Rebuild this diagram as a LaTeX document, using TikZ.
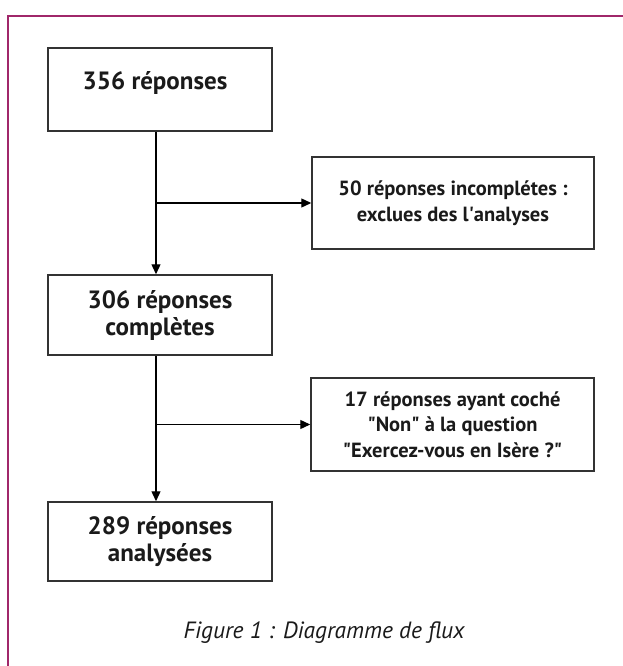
\documentclass[tikz,border=0pt]{standalone}
\usepackage{fontspec}
\setmainfont{PT Sans}
\usetikzlibrary{arrows.meta}
\definecolor{framec}{HTML}{A0276A}
\definecolor{boxc}{HTML}{333333}
\definecolor{txtc}{HTML}{1A1A1A}
\begin{document}
\begin{tikzpicture}[x=1pt,y=-1pt,
  flowbox/.style={draw=boxc,line width=1.5pt,fill=white,text=txtc,align=center,inner sep=0pt},
  bigtxt/.style={font=\fontsize{25}{27}\selectfont\bfseries},
  smalltxt/.style={font=\fontsize{20.5}{25.5}\selectfont\bfseries},
  conn/.style={draw=black,line width=1.3pt},
  arr/.style={conn,-{Triangle[length=10pt,width=9pt]}}]
\useasboundingbox (0,0) rectangle (623,666);
\fill[white] (0,0) rectangle (623,666);
\draw[framec,line width=2pt] (8,680) -- (8,16) -- (640,16);
\node[flowbox,minimum width=224pt,minimum height=83pt] (b1) at (160,89.5) {};
\node[bigtxt,text=txtc,inner sep=0pt] (t1) at (155,83) {356 réponses};
\node[flowbox,smalltxt,minimum width=282pt,minimum height=92pt] (b2) at (453,203) {50 réponses incomplétes :\\exclues des l\textquotesingle analyses};
\node[flowbox,bigtxt,minimum width=224pt,minimum height=80pt] (b3) at (160,315) {306 réponses\\complètes};
\node[flowbox,smalltxt,minimum width=283pt,minimum height=93pt] (b4) at (452.5,424.5) {17 réponses ayant coché\\\textquotedbl Non\textquotedbl{} à la question\\\textquotedbl Exercez-vous en Isère ?\textquotedbl};
\node[flowbox,bigtxt,minimum width=224pt,minimum height=79pt] (b5) at (160,541.5) {289 réponses\\analysées};
\node[text=txtc,font=\fontsize{23.5}{27}\selectfont\itshape] (cap) at (324,633) {Figure 1 : Diagramme de flux};
\coordinate (s1) at ([xshift=-4pt]b1.south);
\coordinate (s3) at ([xshift=-4pt]b3.south);
\draw[arr] (s1) -- ([xshift=-4pt]b3.north);
\draw[arr] (s1 |- b2.west) -- (b2.west);
\draw[arr] (s3) -- ([xshift=-4pt]b5.north);
\draw[arr] (s3 |- b4.west) -- (b4.west);
\end{tikzpicture}
\end{document}
